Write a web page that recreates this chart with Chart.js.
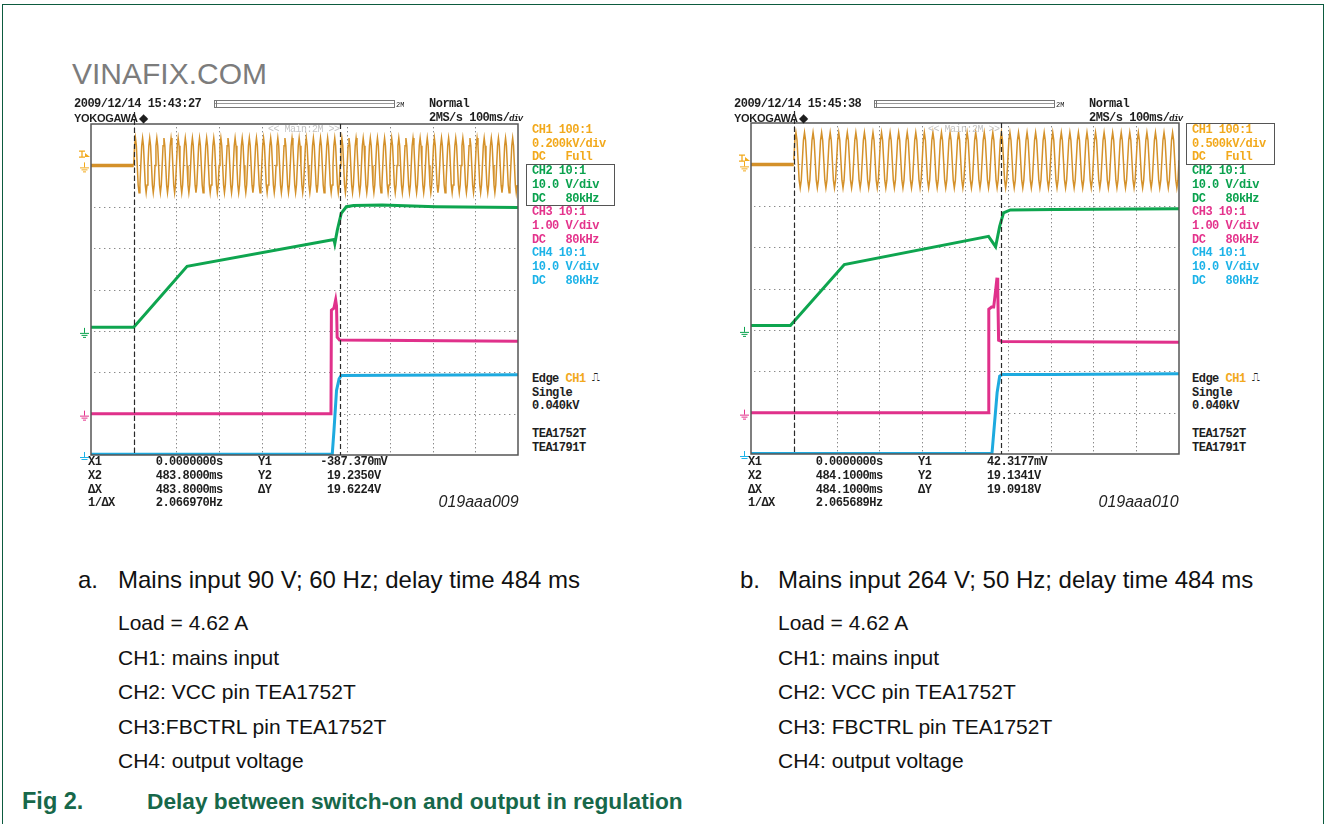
<!DOCTYPE html>
<html>
<head>
<meta charset="utf-8">
<script src="https://cdn.jsdelivr.net/npm/chart.js@4.4.1/dist/chart.umd.min.js"></script>
<style>
body { margin: 0; width: 1328px; height: 824px; background: #fff; position: relative; overflow: hidden; font-family: "Liberation Sans", Arial, sans-serif; }
.frame { position: absolute; left: 2px; top: 4px; width: 1322px; height: 840px; border: 1.5px solid #0d5b3f; box-sizing: border-box; }
.t { position: absolute; white-space: pre; }
.mono { font-family: "Liberation Mono", monospace; font-weight: bold; font-size: 12px; letter-spacing: -0.5px; line-height: 14px; color: #1e1e1e; }
.cap { color: #111; }
.fig { color: #17684a; font-weight: bold; }
canvas { position: absolute; }
.bar { position: absolute; height: 6px; border: 1px solid #777; border-left: 3px double #777; background: linear-gradient(#fff 0 2px, #999 2px 3px, #fff 3px); }
.chbox { position: absolute; border: 1.3px solid #555; box-sizing: border-box; }
</style>
</head>
<body>
<div class="frame"></div>
<canvas id="scopeA"></canvas>
<canvas id="scopeB"></canvas>
<script>
// Fig 2 - two scope captures, switch-on delay (TEA1752T)

// ---------- axes: 100 ms/div, 10 div wide, 8 div high ----------
const timeTicks = [-100, 0, 100, 200, 300, 400, 500, 600, 700, 800, 900];
const divTicks = [-4, -3, -2, -1, 0, 1, 2, 3, 4];

// ground position of every channel, in divisions from screen centre
const gndCh1 = 3, gndCh2 = -1, gndCh3 = -3, gndCh4 = -4;
const vdivCh2 = 10, vdivCh3 = 1, vdivCh4 = 10;

// one mains cycle (fraction of peak)
const mainsCycle = [0, 0.72, 1, 0.72, 0, -0.72, -1, -0.72];

// ---------- (a) 90 V; 60 Hz ----------
const aCursors = [0, 483.8];
const aCh1Div = 200;          // V/div
const aMainsHz = 60;
const aMainsPeak = 132;       // V
const aMainsMid = 0;          // V, centre of the drawn band
const aTrigV = 40;
const aCh2T = [-100, 0, 125, 469, 471, 477, 486, 498, 515, 582, 707, 900];
const aCh2V = [0.9, 0.9, 15.6, 22.1, 21.1, 24.4, 28.4, 30.0, 30.3, 30.4, 30.0, 29.8];
const aCh3T = [-100, 462, 463, 469, 473, 475, 476.5, 482, 900];
const aCh3V = [0, 0, 2.5, 2.55, 2.75, 2.6, 1.85, 1.78, 1.75];
const aCh4T = [-100, 465, 469, 475, 481, 486, 600, 900];
const aCh4V = [0.2, 0.2, 5.9, 15.6, 18.4, 19.2, 19.3, 19.4];

// ---------- (b) 264 V; 50 Hz ----------
const bCursors = [0, 484.1];
const bCh1Div = 500;
const bMainsHz = 50;
const bMainsPeak = 335;
const bMainsMid = 50;
const bTrigV = 40;
const bCh2T = [-100, -8, 118, 455, 471.5, 481, 490, 506, 607, 900];
const bCh2V = [1.06, 1.06, 15.8, 22.6, 20.1, 25.0, 28.3, 29.0, 29.1, 29.3];
const bCh3T = [-100, 455.2, 455.6, 462, 467, 471, 474.8, 476.5, 478.5, 486, 900];
const bCh3V = [0, 0, 2.5, 2.55, 2.55, 2.9, 3.26, 3.0, 1.75, 1.72, 1.7];
const bCh4T = [-100, 463, 475, 481, 487, 600, 900];
const bCh4V = [0.1, 0.1, 14.8, 18.8, 19.2, 19.2, 19.4];

const colCh1 = '#d4912a', colCh2 = '#0ea54f', colCh3 = '#e0318b', colCh4 = '#1eaadf';
const txtCh1 = '#f2a91c', txtCh2 = '#0aa24e', txtCh3 = '#e4338c', txtCh4 = '#1db3e8';

function pairs(T, V) {
    return T.map((t, i) => ({ x: t, y: V[i] }));
}

function mainsPoints(hz, peak, mid, tEnd) {
    const period = 1000 / hz;
    const pts = [];
    for (let k = 0; k * period <= tEnd; k++) {
        mainsCycle.forEach((f, i) => {
            const t = k * period + i * period / mainsCycle.length;
            if (t <= tEnd) pts.push({ x: t, y: mid + f * peak });
        });
    }
    return pts;
}

function chAxis(vdiv, gnd) {
    return { type: 'linear', display: false, min: (-4 - gnd) * vdiv, max: (4 - gnd) * vdiv };
}

function groundMark(ctx, x, y, color) {
    ctx.strokeStyle = color;
    ctx.lineWidth = 1;
    ctx.beginPath();
    ctx.moveTo(x + 0.5, y - 3); ctx.lineTo(x + 0.5, y + 2);
    ctx.moveTo(x - 4, y + 2.5); ctx.lineTo(x + 5, y + 2.5);
    ctx.moveTo(x - 2.5, y + 4.5); ctx.lineTo(x + 3.5, y + 4.5);
    ctx.moveTo(x - 1, y + 6.5); ctx.lineTo(x + 2, y + 6.5);
    ctx.stroke();
}

const scopeGrid = {
    id: 'scopeGrid',
    beforeDatasetsDraw(chart) {
        const { ctx, chartArea: a, scales } = chart;
        ctx.save();
        ctx.fillStyle = '#8a8a8a';
        timeTicks.slice(1, -1).forEach(t => {
            const px = Math.round(scales.x.getPixelForValue(t));
            for (let py = a.top + 3; py < a.bottom; py += 4) ctx.fillRect(px, py, 1, 1.4);
        });
        divTicks.slice(1, -1).forEach(d => {
            const py = Math.round(scales.yd.getPixelForValue(d));
            for (let px = a.left + 3; px < a.right; px += 5) ctx.fillRect(px, py, 1.4, 1);
        });
        ctx.restore();
    },
    afterDatasetsDraw(chart, args, opts) {
        const { ctx, chartArea: a, scales } = chart;
        ctx.save();
        // frame
        ctx.strokeStyle = '#555';
        ctx.lineWidth = 1.5;
        ctx.strokeRect(a.left, a.top, a.right - a.left, a.bottom - a.top);
        // cursors
        ctx.strokeStyle = '#2a2a2a';
        ctx.lineWidth = 1.2;
        ctx.setLineDash([5, 3]);
        opts.cursors.forEach((t, i) => {
            const px = Math.round(scales.x.getPixelForValue(t)) + 0.5;
            ctx.beginPath();
            ctx.moveTo(px, i === 0 ? a.top - 12 : a.top);
            ctx.lineTo(px, a.bottom);
            ctx.stroke();
        });
        ctx.setLineDash([]);
        // ground markers left of the screen
        const gx = a.left - 7;
        groundMark(ctx, gx, scales.y1.getPixelForValue(0), txtCh1);
        groundMark(ctx, gx, scales.y2.getPixelForValue(0), txtCh2);
        groundMark(ctx, gx, scales.y3.getPixelForValue(0), txtCh3);
        groundMark(ctx, gx, scales.y4.getPixelForValue(0), txtCh4);
        // trigger level marker
        const ty = scales.y1.getPixelForValue(opts.trig);
        ctx.strokeStyle = txtCh1;
        ctx.fillStyle = txtCh1;
        ctx.lineWidth = 1.3;
        ctx.beginPath();
        ctx.moveTo(gx - 5, ty - 6); ctx.lineTo(gx + 1, ty - 6);
        ctx.moveTo(gx - 2, ty - 6); ctx.lineTo(gx - 2, ty);
        ctx.moveTo(gx - 5, ty); ctx.lineTo(gx + 1, ty);
        ctx.stroke();
        ctx.beginPath();
        ctx.moveTo(gx + 1, ty - 4); ctx.lineTo(gx + 6, ty); ctx.lineTo(gx + 1, ty);
        ctx.closePath();
        ctx.fill();
        ctx.restore();
    }
};

const panels = [
    { id: 'scopeA', box: [90.7, 124, 426.5, 330.6], ch1Div: aCh1Div, hz: aMainsHz, peak: aMainsPeak, mid: aMainsMid, trig: aTrigV,
      ch2: pairs(aCh2T, aCh2V), ch3: pairs(aCh3T, aCh3V), ch4: pairs(aCh4T, aCh4V), cursors: aCursors },
    { id: 'scopeB', box: [750.5, 123.4, 428.4, 331], ch1Div: bCh1Div, hz: bMainsHz, peak: bMainsPeak, mid: bMainsMid, trig: bTrigV,
      ch2: pairs(bCh2T, bCh2V), ch3: pairs(bCh3T, bCh3V), ch4: pairs(bCh4T, bCh4V), cursors: bCursors }
];

const pad = { left: 24, top: 16, right: 6, bottom: 6 };

panels.forEach(p => {
    const cv = document.getElementById(p.id);
    const [bl, bt, bw, bh] = p.box;
    cv.style.left = (bl - pad.left) + 'px';
    cv.style.top = (bt - pad.top) + 'px';
    cv.width = Math.round(bw + pad.left + pad.right);
    cv.height = Math.round(bh + pad.top + pad.bottom);

    const line = (data, color, w, axis) => ({
        data, borderColor: color, borderWidth: w, pointRadius: 0, tension: 0,
        fill: false, yAxisID: axis, clip: 0
    });

    new Chart(cv, {
        type: 'line',
        data: {
            datasets: [
                line(mainsPoints(p.hz, p.peak, p.mid, 900), colCh1, 1.5, 'y1'),
                line([{ x: -100, y: 0 }, { x: 0, y: 0 }], colCh1, 3.5, 'y1'),
                line(p.ch2, colCh2, 3, 'y2'),
                line(p.ch3, colCh3, 3, 'y3'),
                line(p.ch4, colCh4, 3, 'y4')
            ]
        },
        options: {
            responsive: false,
            animation: false,
            parsing: false,
            layout: { padding: pad },
            plugins: {
                legend: { display: false },
                tooltip: { enabled: false },
                scopeGrid: { cursors: p.cursors, trig: p.trig }
            },
            scales: {
                x: { type: 'linear', display: false, min: timeTicks[0], max: timeTicks[timeTicks.length - 1] },
                yd: { type: 'linear', display: false, min: divTicks[0], max: divTicks[divTicks.length - 1] },
                y1: chAxis(p.ch1Div, gndCh1),
                y2: chAxis(vdivCh2, gndCh2),
                y3: chAxis(vdivCh3, gndCh3),
                y4: chAxis(vdivCh4, gndCh4)
            }
        },
        plugins: [scopeGrid]
    });
});

// ---------- texts ----------
function txt(x, yc, s, cls, style) {
    const d = document.createElement('div');
    d.className = 't ' + cls;
    d.textContent = s;
    d.style.left = x + 'px';
    d.style.top = (yc - 6.5) + 'px';
    if (style) Object.assign(d.style, style);
    document.body.appendChild(d);
    return d;
}

function capText(x, yc, s, size, cls) {
    const d = document.createElement('div');
    d.className = 't ' + cls;
    d.textContent = s;
    d.style.left = x + 'px';
    d.style.top = (yc - 0.5 * size) + 'px';
    d.style.fontSize = size + 'px';
    d.style.lineHeight = size + 'px';
    document.body.appendChild(d);
}

const headers = [
    { dx: 0, date: '2009/12/14 15:43:27', kv: '0.200kV/div', boxed: 1,
      rd: [['X1', '0.0000000s', 'Y1', '-387.370mV'], ['X2', '483.8000ms', 'Y2', ' 19.2350V'],
           ['ΔX', '483.8000ms', 'ΔY', ' 19.6224V'], ['1/ΔX', '2.066970Hz', '', '']], code: '019aaa009' },
    { dx: 660, date: '2009/12/14 15:45:38', kv: '0.500kV/div', boxed: 0,
      rd: [['X1', '0.0000000s', 'Y1', ' 42.3177mV'], ['X2', '484.1000ms', 'Y2', ' 19.1341V'],
           ['ΔX', '484.1000ms', 'ΔY', ' 19.0918V'], ['1/ΔX', '2.065689Hz', '', '']], code: '019aaa010' }
];

headers.forEach(h => {
    const dx = h.dx;
    txt(74 + dx, 103, h.date, 'mono');
    txt(429 + dx, 103, 'Normal', 'mono');
    txt(74 + dx, 117, 'YOKOGAWA', 'mono', { fontFamily: '"Liberation Sans", Arial', fontSize: '11px', letterSpacing: '-0.3px' });
    txt(139 + dx, 117, '◆', 'mono', { fontFamily: '"DejaVu Sans"', fontSize: '12px' });
    txt(429 + dx, 117, '2MS/s 100ms/', 'mono');
    txt(509 + dx, 118, 'div', 'mono', { fontSize: '9px', letterSpacing: '-1px', fontStyle: 'italic' });
    txt(268 + dx, 129.5, '<< Main:2M >>', 'mono', { color: '#c4c4c4', fontWeight: 'normal', fontSize: '10px' });
    const bar = document.createElement('div');
    bar.className = 'bar';
    Object.assign(bar.style, { left: (214 + dx) + 'px', top: '100px', width: '177px' });
    document.body.appendChild(bar);
    txt(396 + dx, 104, '2M', 'mono', { fontSize: '7px', fontWeight: 'normal', letterSpacing: '0' });

    const cx = 532 + dx;
    const rows = [
        ['CH1 100:1', txtCh1], [h.kv, txtCh1], ['DC   Full', txtCh1],
        ['CH2 10:1', txtCh2], ['10.0 V/div', txtCh2], ['DC   80kHz', txtCh2],
        ['CH3 10:1', txtCh3], ['1.00 V/div', txtCh3], ['DC   80kHz', txtCh3],
        ['CH4 10:1', txtCh4], ['10.0 V/div', txtCh4], ['DC   80kHz', txtCh4]
    ];
    rows.forEach((r, i) => txt(cx, 129.5 + i * 13.7, r[0], 'mono', { color: r[1] }));
    const bx = document.createElement('div');
    bx.className = 'chbox';
    const top = 122.5 + h.boxed * 41.1;
    Object.assign(bx.style, { left: (cx - 6) + 'px', top: top + 'px', width: '89px', height: '42px' });
    document.body.appendChild(bx);

    txt(cx, 378, 'Edge', 'mono');
    txt(cx + 33.5, 378, 'CH1', 'mono', { color: txtCh1 });
    txt(cx + 60, 377, '⎍', 'mono', { fontFamily: '"DejaVu Sans"', fontWeight: 'normal', fontSize: '11px' });
    txt(cx, 392, 'Single', 'mono');
    txt(cx, 405.7, '0.040kV', 'mono');
    txt(cx, 433.3, 'TEA1752T', 'mono');
    txt(cx, 447, 'TEA1791T', 'mono');

    h.rd.forEach((r, i) => {
        const y = 461.5 + i * 13.8;
        txt(88 + dx, y, r[0], 'mono');
        txt(155.7 + dx, y, r[1], 'mono');
        txt(258 + dx, y, r[2], 'mono');
        txt(320.3 + dx, y, r[3], 'mono');
    });
    const c = txt(0, 502, h.code, 'cap', { fontStyle: 'italic', fontSize: '16px', lineHeight: '16px', color: '#222' });
    c.style.left = (518.5 + dx - c.offsetWidth) + 'px';
    c.style.top = '494px';
});

// site text above the left capture
const vf = document.createElement('div');
vf.className = 't';
vf.textContent = 'VINAFIX.COM';
Object.assign(vf.style, { left: '72px', top: '59px', fontSize: '30px', lineHeight: '30px', color: '#7c7c7c' });
document.body.appendChild(vf);

// ---------- captions ----------
const capA = ['Load = 4.62 A', 'CH1: mains input', 'CH2: VCC pin TEA1752T', 'CH3:FBCTRL pin TEA1752T', 'CH4: output voltage'];
const capB = ['Load = 4.62 A', 'CH1: mains input', 'CH2: VCC pin TEA1752T', 'CH3: FBCTRL pin TEA1752T', 'CH4: output voltage'];
const capY = [622, 657, 691.5, 726, 760.5];

capText(78, 580, 'a.', 24, 'cap');
capText(118, 580, 'Mains input 90 V; 60 Hz; delay time 484 ms', 24, 'cap');
capA.forEach((s, i) => capText(118, capY[i], s, 21, 'cap'));
capText(740, 580, 'b.', 24, 'cap');
capText(778, 580, 'Mains input 264 V; 50 Hz; delay time 484 ms', 24, 'cap');
capB.forEach((s, i) => capText(778, capY[i], s, 21, 'cap'));
capText(22, 801.5, 'Fig 2.', 23.5, 'fig');
capText(147, 801.5, 'Delay between switch-on and output in regulation', 22.7, 'fig');
</script>
</body>
</html>
